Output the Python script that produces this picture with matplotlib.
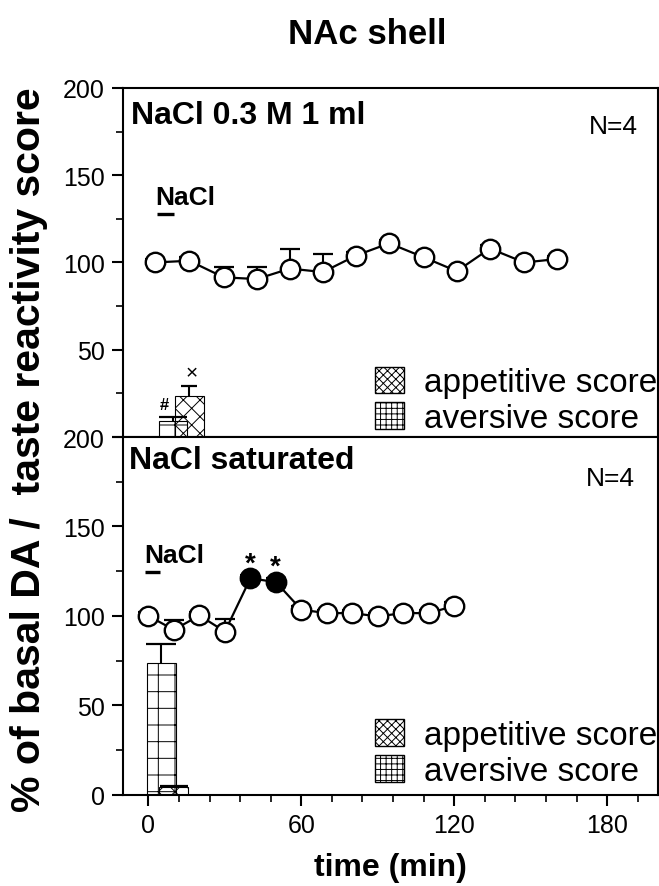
import matplotlib.pyplot as plt
from matplotlib.patches import Patch
from matplotlib.ticker import MultipleLocator
import numpy as np

plt.rcParams['font.family'] = ['Liberation Sans', 'DejaVu Sans']
plt.rcParams['hatch.linewidth'] = 0.7

# --- top panel: NaCl 0.3 M 1 ml ---
top_time = [2.5, 16, 29.5, 42.5, 55.5, 68.5, 81.5, 94.5, 108, 121, 134, 147.5, 160.5]
top_da = [100, 101, 91.5, 90.5, 96.5, 94.5, 104, 111, 103, 95, 108, 100, 102]
top_sem = [2, 2, 6, 7, 11, 10.5, 2, 2, 2, 2, 2, 2, 2]
top_filled = [False] * 13

top_bar_x = [9.6, 16.1]          # aversive, appetitive
top_bar_h = [9.0, 23.4]
top_bar_err = [2.4, 5.7]
top_bar_w = 11.2

top_nacl_line = [3.2, 9.9, 127.6]  # x start, x end, y

# --- bottom panel: NaCl saturated ---
bot_time = [0, 10, 20, 30, 40, 50, 60, 70, 80, 90, 100, 110, 120]
bot_da = [100, 92.3, 100.3, 91.3, 121, 119, 103.5, 101.6, 101.6, 99.8, 101.6, 101.6, 105.6]
bot_sem = [2, 5.6, 2, 6.8, 2, 2, 2, 2, 2, 2, 2, 2, 2]
bot_filled = [False, False, False, False, True, True, False, False, False, False, False, False, False]

bot_bar_x = [5.0, 10.0]
bot_bar_h = [73.6, 4.7]
bot_bar_err = [10.9, 0.3]
bot_bar_w = 11.4

bot_nacl_line = [-1.2, 4.6, 124.6]

star_x = [40, 49.8]
star_y = [125.5, 123.5]


def upper_err(ax, x, y, e, cap):
    # one-sided (upper) error bar with a cap
    top = np.asarray(y) + np.asarray(e)
    ax.vlines(x, y, top, color='black', lw=1.5, zorder=2)
    ax.plot(x, top, '_', ms=cap, mew=1.6, color='black', zorder=2)


def draw_panel(ax, t, da, sem, filled, bar_x, bar_h, bar_err, bar_w, nacl_line, bar_caps):
    # bars: aversive (grid) and appetitive (crosshatch)
    ax.bar(bar_x[0], bar_h[0], bar_w, facecolor='none', edgecolor='black',
           hatch='+', linewidth=0.8, zorder=1)
    ax.bar(bar_x[1], bar_h[1], bar_w, facecolor='none', edgecolor='black',
           hatch='xx', linewidth=0.8, zorder=1)
    for x, h, e, c in zip(bar_x, bar_h, bar_err, bar_caps):
        upper_err(ax, [x], [h], [e], c)

    # DA time course
    upper_err(ax, t, da, sem, 14)
    ax.plot(t, da, '-', color='black', lw=1.6, zorder=3)
    face = ['black' if f else 'white' for f in filled]
    for x, y, fc in zip(t, da, face):
        ax.plot(x, y, 'o', ms=14, mfc=fc, mec='black', mew=1.7, zorder=4)

    ax.hlines(nacl_line[2], nacl_line[0], nacl_line[1], color='black', lw=2.4)

    ax.set_xlim(-10, 200)
    ax.set_ylim(0, 200)
    ax.yaxis.set_major_locator(MultipleLocator(50))
    ax.yaxis.set_minor_locator(MultipleLocator(25))
    ax.xaxis.set_major_locator(MultipleLocator(60))
    ax.xaxis.set_minor_locator(MultipleLocator(12))
    ax.tick_params(which='major', length=8, width=1.5, labelsize=18, pad=5)
    ax.tick_params(which='minor', length=5, width=1.2)
    for s in ax.spines.values():
        s.set_linewidth(1.5)

    handles = [Patch(facecolor='white', edgecolor='black', hatch='xxxx', label='appetitive score'),
               Patch(facecolor='white', edgecolor='black', hatch='+++', label='aversive score')]
    return handles


fig = plt.figure(figsize=(6.59, 8.87), dpi=100)
ax1 = fig.add_axes([0.1866, 0.5062, 0.812, 0.3935])
ax2 = fig.add_axes([0.1866, 0.1026, 0.812, 0.4036])

h1 = draw_panel(ax1, top_time, top_da, top_sem, top_filled,
                top_bar_x, top_bar_h, top_bar_err, top_bar_w, top_nacl_line, [20, 12])
h2 = draw_panel(ax2, bot_time, bot_da, bot_sem, bot_filled,
                bot_bar_x, bot_bar_h, bot_bar_err, bot_bar_w, bot_nacl_line, [22, 20])

ax1.tick_params(which='both', bottom=False, labelbottom=False)
ax1.set_yticks([0, 50, 100, 150, 200])
ax1.set_yticklabels(['', '50', '100', '150', '200'])

leg_kw = dict(loc='lower right', frameon=False, fontsize=24, handlelength=0.85,
              handleheight=0.85, handletextpad=0.6, labelspacing=0.12,
              borderaxespad=0, borderpad=0)
ax1.legend(handles=h1, bbox_to_anchor=(0.998, 0.008), **leg_kw)
ax2.legend(handles=h2, bbox_to_anchor=(0.998, 0.022), **leg_kw)

# panel labels
ax1.text(-6.8, 180, 'NaCl 0.3 M 1 ml', fontsize=23, fontweight='bold')
ax2.text(-7.5, 182.5, 'NaCl saturated', fontsize=23, fontweight='bold')
ax1.text(192, 174.3, 'N=4', fontsize=19, ha='right')
ax2.text(191, 173.4, 'N=4', fontsize=19, ha='right')
ax1.text(2.5, 133.3, 'NaCl', fontsize=19, fontweight='bold')
ax2.text(-1.7, 130.3, 'NaCl', fontsize=19, fontweight='bold')

# significance marks
ax1.text(6.3, 16, '#', fontsize=12, fontweight='bold', ha='center')
ax1.text(16.9, 33.5, '\u00d7', fontsize=15, ha='center')
for x, y in zip(star_x, star_y):
    ax2.text(x, y, '*', fontsize=20, fontweight='bold', ha='center')

fig.text(367 / 659, 1 - 34 / 887, 'NAc shell', fontsize=25, fontweight='bold',
         ha='center', va='center')
fig.text(390 / 659, 1 - 868 / 887, 'time (min)', fontsize=23, fontweight='bold',
         ha='center', va='center')
fig.text(29 / 659, 1 - 450 / 887, '% of basal DA /  taste reactivity score', fontsize=29.5,
         fontweight='bold', rotation=90, ha='center', va='center')

fig.savefig('out.png', dpi=100)
